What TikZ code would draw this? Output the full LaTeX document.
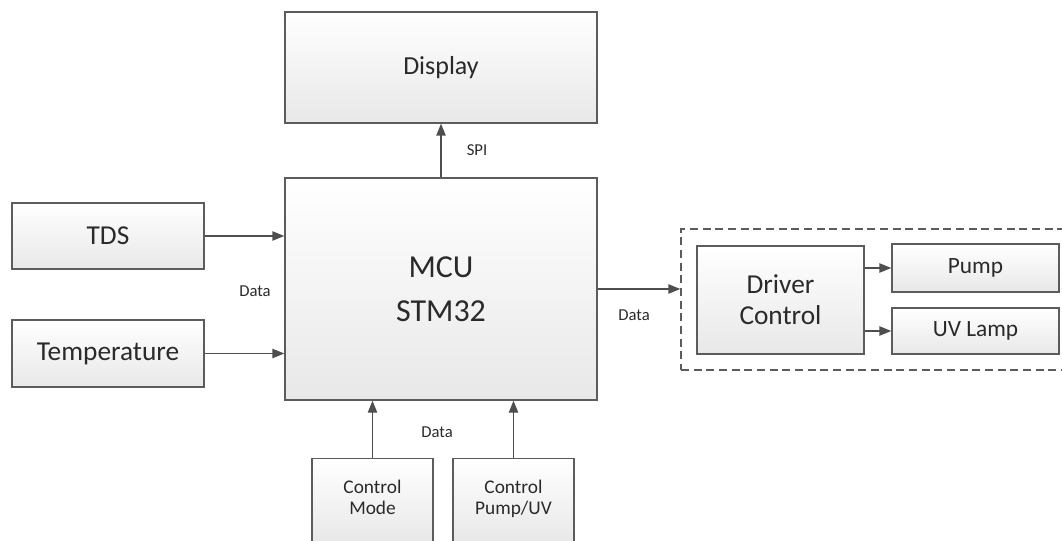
\documentclass[tikz,border=0pt]{standalone}
\usepackage{fontspec}
\setmainfont{Carlito}
\usetikzlibrary{arrows.meta,shadows}
\definecolor{boxline}{HTML}{5C5C5C}
\definecolor{txt}{HTML}{2A2A2A}
\tikzset{
  block/.style={
    draw = boxline,
    line width = 1pt,
    top color = white,
    bottom color = black!9,
    drop shadow = {shadow xshift=1pt, shadow yshift=-1pt, opacity=0.18},
    inner sep = 0pt,
    align = center,
    text = txt
  },
  group/.style={
    draw = boxline,
    line width = 1pt,
    dash pattern = on 6pt off 3.5pt,
    inner sep = 0pt
  },
  link/.style={
    draw = boxline!85!black,
    line width = 1pt,
    -{Triangle[length=9pt,width=7pt]}
  },
  lbl/.style={
    text = txt,
    inner sep = 0pt,
    font = \fontsize{12.5}{14}\selectfont
  }
}

\begin{document}
\begin{tikzpicture}[x=0.75pt, y=-0.75pt]
    \useasboundingbox (0,0) rectangle (1062,541);
    \clip (0,0) rectangle (1062,541);

    \node[block, minimum width=234pt, minimum height=83.25pt,
          font=\fontsize{19.5}{22}\selectfont] (display) at (441,67.5) {Display};
    \node[block, minimum width=234pt, minimum height=166.5pt,
          font=\fontsize{24}{33}\selectfont] (mcu) at (441,289) {MCU\\STM32};
    \node[block, minimum width=144pt, minimum height=49.5pt,
          font=\fontsize{20.5}{24}\selectfont] (tds) at (108,236) {TDS};
    \node[block, minimum width=144pt, minimum height=50.25pt,
          font=\fontsize{20.5}{24}\selectfont] (temp) at (108,353.5) {Temperature};

    \node[group, minimum width=295.5pt, minimum height=105.75pt] (drvgroup) at (878,299.5) {};
    \node[block, minimum width=125.25pt, minimum height=81pt,
          font=\fontsize{20.5}{23}\selectfont] (driver) at (780.5,300) {Driver\\Control};
    \node[block, minimum width=125.25pt, minimum height=36pt,
          font=\fontsize{17.5}{20}\selectfont] (pump) at (975.5,268) {Pump};
    \node[block, minimum width=125.25pt, minimum height=34.5pt,
          font=\fontsize{17.5}{20}\selectfont] (uvlamp) at (975.5,331) {UV Lamp};

    \node[block, minimum width=90.75pt, minimum height=63pt,
          font=\fontsize{14.5}{16}\selectfont] (ctrlmode) at (372.5,500.5) {Control\\Mode\strut};
    \node[block, minimum width=90.75pt, minimum height=63pt,
          font=\fontsize{14.5}{16}\selectfont] (ctrlpump) at (513.5,500.5) {Control\\Pump/UV\strut};

    % connectors
    \draw[link] (mcu.north) -- (display.south);
    \draw[link] (tds.east) -- (tds.east -| mcu.west);
    \draw[link] (temp.east) -- (temp.east -| mcu.west);
    \draw[link] (mcu.east) -- (mcu.east -| drvgroup.west);
    \draw[link] (pump.west -| driver.east) -- (pump.west);
    \draw[link] (uvlamp.west -| driver.east) -- (uvlamp.west);
    \draw[link] (ctrlmode.north) -- (ctrlmode.north |- mcu.south);
    \draw[link] (ctrlpump.north) -- (ctrlpump.north |- mcu.south);

    \node[lbl] (spi) at (477,150) {SPI};
    \node[lbl] (datain) at (255,291) {Data};
    \node[lbl] (dataout) at (634,315) {Data};
    \node[lbl] (datactrl) at (437,432) {Data};
\end{tikzpicture}
\end{document}
